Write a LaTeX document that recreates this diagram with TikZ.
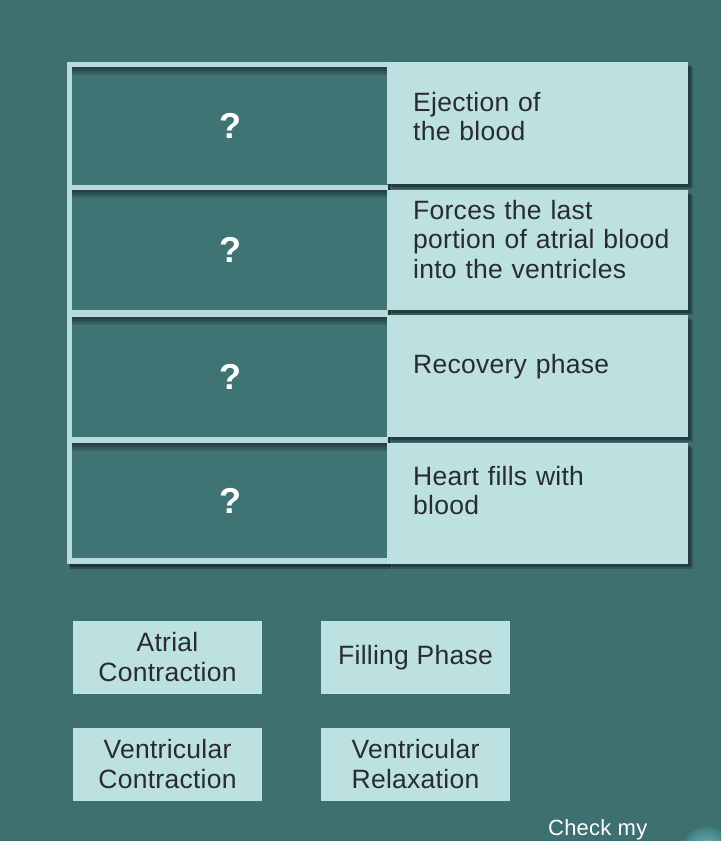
\documentclass[tikz,border=0pt]{standalone}
\usepackage{fontspec}
\setmainfont{Liberation Sans}
\newfontfamily\lbl{Liberation Sans}[LetterSpace=1.0]
\usetikzlibrary{shadows,calc}
\definecolor{bg}{RGB}{62,112,112}
\definecolor{cellD}{RGB}{63,116,116}
\definecolor{cellL}{RGB}{189,224,225}
\definecolor{frameL}{RGB}{183,219,220}
\definecolor{txt}{RGB}{40,44,44}
\definecolor{chkA}{RGB}{130,190,190}
\definecolor{chkB}{RGB}{60,125,125}
\begin{document}
\begin{tikzpicture}[x=1pt,y=-1pt,
 frame/.style={fill=frameL, anchor=north west, inner sep=0pt, outer sep=0pt,
   minimum width=321pt, minimum height=502pt,
   drop shadow={shadow xshift=3pt, shadow yshift=-5pt, opacity=0.3, fill=black},
   drop shadow={shadow xshift=2pt, shadow yshift=-3pt, opacity=0.3, fill=black}},
 darkcell/.style={fill=cellD, anchor=north west, inner sep=0pt, outer sep=0pt,
   minimum width=316pt, text=white, font=\bfseries\fontsize{36}{36}\selectfont,
   path picture={
     \foreach \h in {2,4,6,8}
       \fill[black, opacity=0.12] (path picture bounding box.north west)
         rectangle ([yshift=-\h pt]path picture bounding box.north east);}},
 rightcell/.style={fill=cellL, anchor=north west, inner sep=0pt, outer sep=0pt,
   minimum width=301pt,
   drop shadow={shadow xshift=5pt, shadow yshift=-5pt, opacity=0.2, fill=black},
   drop shadow={shadow xshift=3pt, shadow yshift=-3pt, opacity=0.3, fill=black}},
 celltext/.style={anchor=base west, inner sep=0pt, text width=280pt, align=left,
   text=txt, font=\lbl\fontsize{26.5}{29.5}\selectfont},
 choice/.style={fill=cellL, inner sep=0pt, minimum width=189pt, minimum height=73pt,
   align=center, text=txt, font=\lbl\fontsize{26.5}{30}\selectfont},
 chkbtn/.style={circle, minimum size=48pt, inner sep=0pt, shading=radial,
   inner color=chkA, outer color=chkB},
 chklabel/.style={anchor=base west, inner sep=0pt, text=white, font=\lbl\fontsize{22}{22}\selectfont},
]
\fill[bg] (0,0) rectangle (721,841);
\useasboundingbox (0,0) rectangle (721,841);
\clip (0,0) rectangle (721,841);

% table frame and left cells
\node[frame] (frame) at (67,62) {};
\node[darkcell, minimum height=118pt] (d1) at (72,67) {?};
\node[darkcell, minimum height=120pt] (d2) at (72,190) {?};
\node[darkcell, minimum height=120pt] (d3) at (72,317) {?};
\node[darkcell, minimum height=115pt] (d4) at (72,443) {?};

% right cells
\node[rightcell, minimum height=122pt] (r1) at (387,62) {};
\node[rightcell, minimum height=120pt] (r2) at (387,190) {};
\node[rightcell, minimum height=122pt] (r3) at (387,315) {};
\node[rightcell, minimum height=121pt] (r4) at (387,443) {};

\node[celltext] (t1) at (413,111) {Ejection of\\the blood};
\node[celltext] (t2) at (413,219) {Forces the last\\portion of atrial blood\\into the ventricles};
\node[celltext] (t3) at (413,373) {Recovery phase};
\node[celltext] (t4) at (413,485) {Heart fills with\\blood};

% choice buttons
\node[choice] (b1) at (167.5,657.5) {Atrial\\Contraction};
\node[choice] (b2) at (415.5,657.5) {Filling Phase};
\node[choice] (b3) at (167.5,764) {Ventricular\\Contraction};
\node[choice] (b4) at (415.5,764) {Ventricular\\Relaxation};

% check button
\node[chklabel] (chk) at (548,835) {Check my};
\node[chkbtn] (chkb) at (706,851) {};
\end{tikzpicture}
\end{document}
